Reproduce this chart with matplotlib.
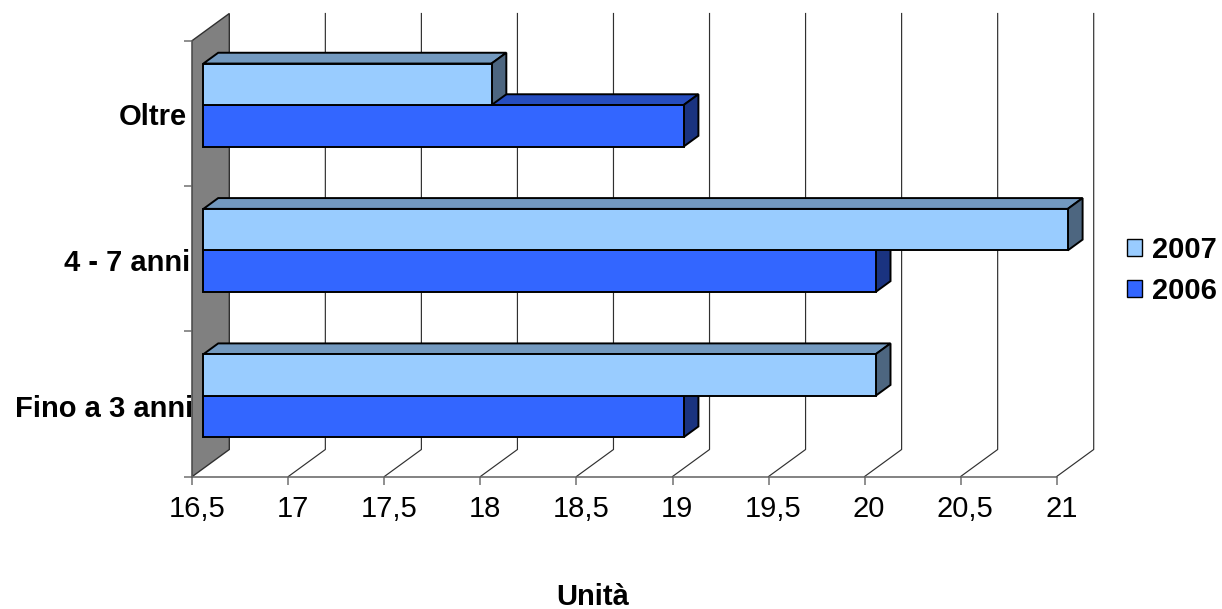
import matplotlib
matplotlib.use("Agg")
import matplotlib.pyplot as plt
from matplotlib.patches import Polygon, Patch
from matplotlib.lines import Line2D
from matplotlib.transforms import Affine2D, IdentityTransform

plt.rcParams['font.family'] = ['Liberation Sans', 'DejaVu Sans']

categories = ["Fino a 3 anni", "4 - 7 anni", "Oltre"]
values_2006 = [19, 20, 19]
values_2007 = [20, 21, 18]
x_ticks = [16.5, 17, 17.5, 18, 18.5, 19, 19.5, 20, 20.5, 21]
x_labels = ["16,5", "17", "17,5", "18", "18,5", "19", "19,5", "20", "20,5", "21"]
axis_title = "Unità"

W, H = 1222, 609
XMIN, XMAX = 16.5, 21
DX, DY = 37, 27          # full depth of the 3-D box, px
D0, D1 = 0.3, 0.7        # bar depth span as a fraction of the box
BAR = 1 / 3.5            # gap width 150 %
EDGE = 1.4

fig = plt.figure(figsize=(W / 100, H / 100), dpi=100, facecolor="white")
L, R, T, B = 192.3, 1056.7, 40.5, 476.5
ax = fig.add_axes([L / W, (H - B) / H, (R - L) / W, (B - T) / H], facecolor="none")
ax.set_xlim(XMIN, XMAX)
ax.set_ylim(0, 3)
for s in ("top", "right"):
    ax.spines[s].set_visible(False)
for s in ("left", "bottom"):
    ax.spines[s].set_color("#606060")
    ax.spines[s].set_linewidth(1.1)
    ax.spines[s].set_zorder(2)

ident = IdentityTransform()


def disp(x, y, d=0.0):
    px, py = ax.transData.transform((x, y))
    return (px + d * DX, py + d * DY)


def poly(pts, face, edge="black", lw=EDGE, z=5):
    ax.add_patch(Polygon(pts, closed=True, facecolor=face, edgecolor=edge, linewidth=lw,
                         transform=ident, clip_on=False, zorder=z, joinstyle="miter"))


# back wall on the left
poly([disp(XMIN, 0), disp(XMIN, 3), disp(XMIN, 3, 1), disp(XMIN, 0, 1)],
     "#808080", edge="#303030", lw=1.0, z=1)

# gridlines
for t in x_ticks[1:]:
    p = [disp(t, 0), disp(t, 0, 1), disp(t, 3, 1)]
    ax.add_line(Line2D([q[0] for q in p], [q[1] for q in p], color="#303030", lw=0.85,
                       transform=ident, clip_on=False, zorder=1))


def draw_bars(values, y_base, face, top, side, z):
    shift = Affine2D().translate(D0 * DX, D0 * DY)
    for i, v in enumerate(values):
        y0 = i + y_base
        y1 = y0 + BAR
        poly([disp(XMIN, y1, D0), disp(XMIN, y1, D1), disp(v, y1, D1), disp(v, y1, D0)], top, z=z)
        poly([disp(v, y0, D0), disp(v, y1, D0), disp(v, y1, D1), disp(v, y0, D1)], side, z=z)
    ax.barh([i + y_base + BAR / 2 for i in range(len(values))],
            [v - XMIN for v in values], height=BAR, left=XMIN,
            color=face, edgecolor="black", linewidth=EDGE,
            transform=ax.transData + shift, clip_on=False, zorder=z + 0.5)


gap = (1 - 2 * BAR) / 2
draw_bars(values_2006, gap, "#3366FF", "#264DBF", "#1A3380", 5)
draw_bars(values_2007, gap + BAR, "#99CCFF", "#7399BF", "#4D6680", 6)

ax.set_ylim(0, 3)
ax.set_xlim(XMIN, XMAX)

# axes furniture
ax.set_xticks(x_ticks)
ax.set_xticklabels(x_labels, fontsize=21)
ax.tick_params(axis="x", length=6, width=1.1, color="#707070", pad=7.3)
for lab in ax.get_xticklabels():
    lab.set_transform(lab.get_transform() + Affine2D().translate(4.5, 0))
ax.set_yticks([0, 1, 2, 3])
ax.set_yticklabels([])
ax.tick_params(axis="y", length=6, width=1.1, color="#707070")

label_nudge = [(0.5, -13.4), (-2, -12.7), (-5.5, -12)]
for i, (c, n) in enumerate(zip(categories, label_nudge)):
    ax.annotate(c, xy=(XMIN, i + 0.5), xytext=n, textcoords="offset pixels",
                ha="right", va="baseline", fontsize=21, fontweight="bold",
                zorder=8, annotation_clip=False)

ax.set_xlabel(axis_title, fontsize=21, fontweight="bold", va="baseline")
ax.xaxis.set_label_coords((592.5 - L) / (R - L), -(605 - B) / (B - T), transform=ax.transAxes)

handles = [Patch(facecolor="#99CCFF", edgecolor="black", linewidth=1.0, label="2007"),
           Patch(facecolor="#3366FF", edgecolor="black", linewidth=1.0, label="2006")]
fig.legend(handles=handles, loc="center left", bbox_to_anchor=(1127 / W, 1 - 270.5 / H),
           frameon=False, prop={"size": 21, "weight": "bold"},
           handlelength=0.52, handleheight=0.52, handletextpad=0.34, labelspacing=0.45,
           borderpad=0, borderaxespad=0)

fig.savefig("out.png", dpi=100, facecolor="white")
